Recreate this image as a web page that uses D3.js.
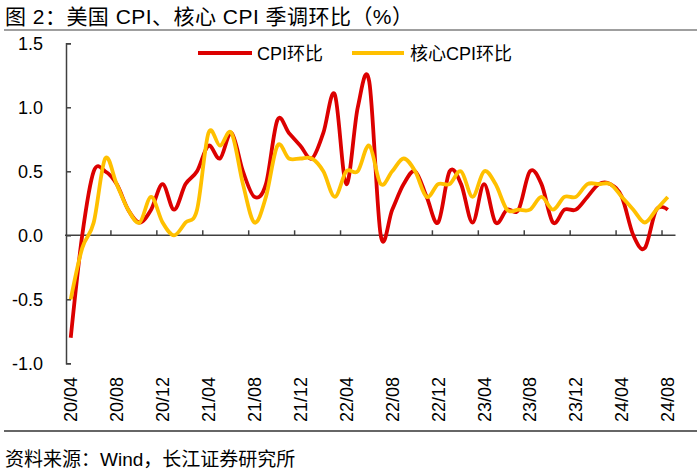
<!DOCTYPE html>
<html>
<head>
<meta charset="utf-8">
<script src="https://cdn.jsdelivr.net/npm/d3@7"></script>
<style>
  html, body { margin: 0; padding: 0; background: #fff; }
  svg { display: block; }
  text { font-family: "Liberation Sans", Arial, "Noto Sans CJK SC", sans-serif; fill: #000; }
</style>
</head>
<body>
<svg id="chart" width="700" height="473"></svg>
<script>
// ---------- data ----------
const categories = [
  "20/04","20/05","20/06","20/07","20/08","20/09","20/10","20/11","20/12",
  "21/01","21/02","21/03","21/04","21/05","21/06","21/07","21/08","21/09","21/10","21/11","21/12",
  "22/01","22/02","22/03","22/04","22/05","22/06","22/07","22/08","22/09","22/10","22/11","22/12",
  "23/01","23/02","23/03","23/04","23/05","23/06","23/07","23/08","23/09","23/10","23/11","23/12",
  "24/01","24/02","24/03","24/04","24/05","24/06","24/07","24/08"
];
const cpiMoM = [
  -0.8, 0.0, 0.5, 0.5, 0.4, 0.2, 0.1, 0.2, 0.4,
  0.2, 0.4, 0.5, 0.7, 0.6, 0.8, 0.5, 0.3, 0.4, 0.9, 0.8, 0.7,
  0.6, 0.8, 1.1, 0.4, 1.0, 1.2, 0.0, 0.2, 0.4, 0.5, 0.3, 0.1,
  0.5, 0.4, 0.1, 0.4, 0.1, 0.2, 0.2, 0.5, 0.4, 0.1, 0.2, 0.2,
  0.3, 0.4, 0.4, 0.3, 0.0, -0.1, 0.2, 0.2
];
const coreMoM = [
  -0.5, -0.1, 0.1, 0.6, 0.4, 0.2, 0.1, 0.3, 0.1,
  0.0, 0.1, 0.2, 0.8, 0.7, 0.8, 0.4, 0.1, 0.3, 0.7, 0.6, 0.6,
  0.6, 0.5, 0.3, 0.5, 0.5, 0.7, 0.4, 0.5, 0.6, 0.5, 0.3, 0.4,
  0.4, 0.5, 0.3, 0.5, 0.4, 0.2, 0.2, 0.2, 0.3, 0.2, 0.3, 0.3,
  0.4, 0.4, 0.4, 0.3, 0.2, 0.1, 0.2, 0.3
];
const xTickLabels = ["20/04","20/08","20/12","21/04","21/08","21/12","22/04","22/08","22/12","23/04","23/08","23/12","24/04","24/08"];
const yTicks = [-1.0, -0.5, 0.0, 0.5, 1.0, 1.5];
const seriesNames = ["CPI环比", "核心CPI环比"];
const seriesColors = ["#DC0000", "#FFC000"];
const titleText = "图 2：美国 CPI、核心 CPI 季调环比（%）";
const sourceText = "资料来源：Wind，长江证券研究所";

// ---------- layout ----------
const svg = d3.select("#chart");
const plotLeft = 65, plotRight = 673.5, plotTop = 43.3, plotBottom = 363.3;

const x = d3.scaleBand().domain(categories).range([plotLeft, plotRight]).padding(0);
const y = d3.scaleLinear().domain([-1, 1.5]).range([plotBottom, plotTop]);
const cx = c => x(c) + x.bandwidth() / 2;

// title
svg.append("text")
  .attr("x", 5).attr("y", 24)
  .attr("font-size", 21)
  .attr("textLength", 408).attr("lengthAdjust", "spacing")
  .text(titleText);
svg.append("line")
  .attr("x1", 4).attr("x2", 697).attr("y1", 30).attr("y2", 30)
  .attr("stroke", "#7f7f7f").attr("stroke-width", 1.5);

// y axis
const fmt = d => d3.format(".1f")(d).replace("\u2212", "-");
const yAxis = d3.axisLeft(y).tickValues(yTicks).tickFormat(fmt).tickSize(-5).tickPadding(23);
const gy = svg.append("g").attr("transform", `translate(${plotLeft + 1},0)`).call(yAxis);
gy.select(".domain").attr("stroke", "#404040").attr("stroke-width", 1.5);
gy.selectAll(".tick line").attr("stroke", "#404040").attr("stroke-width", 1.5);
gy.selectAll(".tick text").attr("font-size", 18).attr("fill", "#000")
  .attr("font-family", "Liberation Sans, Arial, sans-serif");

// x axis line at zero
svg.append("line")
  .attr("x1", plotLeft).attr("x2", plotRight + 2)
  .attr("y1", y(0)).attr("y2", y(0))
  .attr("stroke", "#404040").attr("stroke-width", 1.5);
// boundary ticks every 4 categories
const tickIdx = d3.range(4, categories.length, 4);
svg.append("g").selectAll("line").data(tickIdx).join("line")
  .attr("x1", i => x(categories[i])).attr("x2", i => x(categories[i]))
  .attr("y1", y(0)).attr("y2", y(0) - 5)
  .attr("stroke", "#404040").attr("stroke-width", 1.5);

// x labels (rotated), at bottom
const xAxis = d3.axisBottom(x).tickValues(xTickLabels).tickSize(0);
const gx = svg.append("g").attr("transform", `translate(0,377)`).call(xAxis);
gx.select(".domain").remove();
gx.selectAll(".tick text")
  .attr("transform", "rotate(-90)")
  .attr("x", 0).attr("y", 0).attr("dy", "0.36em")
  .attr("text-anchor", "end")
  .attr("font-size", 18).attr("fill", "#000")
  .attr("font-family", "Liberation Sans, Arial, sans-serif");

// lines (uniform Catmull-Rom, like spreadsheet smoothing)
const line = d3.line()
  .x((d, i) => cx(categories[i]))
  .y(d => y(d))
  .curve(d3.curveCatmullRom.alpha(0));

[cpiMoM, coreMoM].forEach((vals, k) => {
  svg.append("path")
    .datum(vals)
    .attr("d", line)
    .attr("fill", "none")
    .attr("stroke", seriesColors[k])
    .attr("stroke-width", 3.8)
    .attr("stroke-linejoin", "round")
    .attr("stroke-linecap", "butt");
});

// legend
const legendItems = [
  { x1: 198, x2: 252, tx: 257 },
  { x1: 352, x2: 404, tx: 410 }
];
legendItems.forEach((it, k) => {
  svg.append("line")
    .attr("x1", it.x1).attr("x2", it.x2).attr("y1", 53).attr("y2", 53)
    .attr("stroke", seriesColors[k]).attr("stroke-width", 3.8);
  svg.append("text")
    .attr("x", it.tx).attr("y", 59.5)
    .attr("font-size", 18)
    .text(seriesNames[k]);
});

// bottom rule and source
svg.append("line")
  .attr("x1", 4).attr("x2", 697).attr("y1", 431).attr("y2", 431)
  .attr("stroke", "#333").attr("stroke-width", 1.5);
svg.append("text")
  .attr("x", 5).attr("y", 466)
  .attr("font-size", 19)
  .text(sourceText);
</script>
</body>
</html>
